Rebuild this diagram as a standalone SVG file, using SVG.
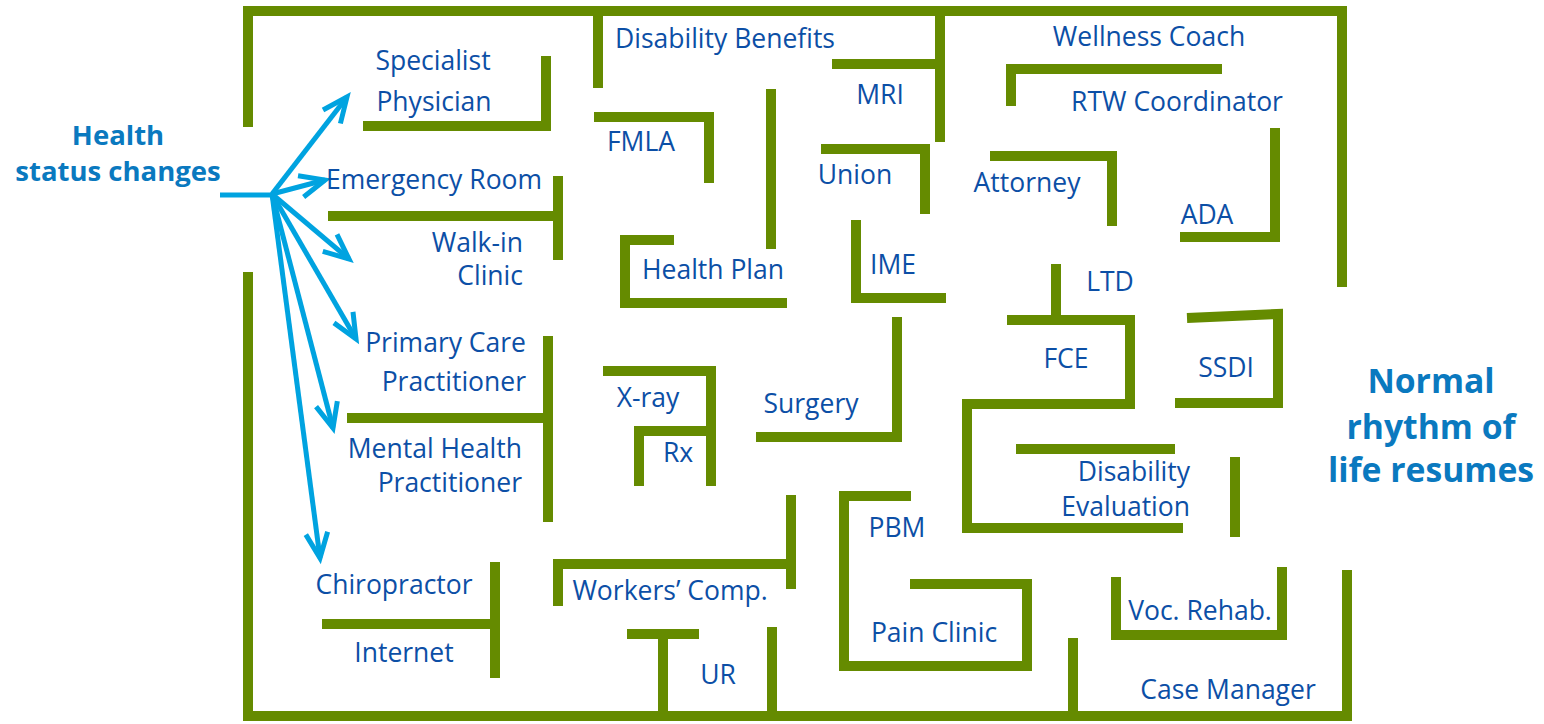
<svg xmlns="http://www.w3.org/2000/svg" width="1544" height="724" viewBox="0 0 1544 724">
  <defs>
    <style>
      .wall { fill: none; stroke: #658b00; stroke-width: 10; stroke-linecap: butt; stroke-linejoin: miter; }
      .lbl { font-family: "Open Sans", "Noto Sans", "Liberation Sans", sans-serif; font-size: 26.5px; fill: #0c4fa6; }
      .mid { text-anchor: middle; }
      .end { text-anchor: end; }
      .head { font-family: "Open Sans", "Noto Sans", "Liberation Sans", sans-serif; font-weight: bold; fill: #0a79bf; text-anchor: middle; }
      .arrow { fill: none; stroke: #00a3e0; stroke-width: 5; stroke-linecap: butt; }
    </style>
    <marker id="vhead" markerUnits="userSpaceOnUse" viewBox="-30 -15 34 30" refX="0" refY="0" markerWidth="34" markerHeight="30" orient="auto" overflow="visible">
      <path d="M-25,-11 L0,0 L-25,11" fill="none" stroke="#00a3e0" stroke-width="5" stroke-linejoin="miter"/>
    </marker>
  </defs>

  <rect width="1544" height="724" fill="#ffffff"/>

  <!-- maze walls -->
  <g id="maze-walls">
    <!-- outer boundary -->
    <path class="wall" d="M248,127 V11 H1342 V287"/>
    <path class="wall" d="M248,272 V716 H1347 V570"/>
    <!-- left column -->
    <path class="wall" d="M363,126 H546 V56"/>
    <path class="wall" d="M328,216 H558"/>
    <path class="wall" d="M558,176 V260"/>
    <path class="wall" d="M347,418 H548"/>
    <path class="wall" d="M548,336 V522"/>
    <path class="wall" d="M322,624 H495"/>
    <path class="wall" d="M495,562 V678"/>
    <!-- middle column -->
    <path class="wall" d="M598,11 V88"/>
    <path class="wall" d="M594,117 H709 V183"/>
    <path class="wall" d="M771,89 V249"/>
    <path class="wall" d="M674,240 H625 V303 H787"/>
    <path class="wall" d="M832,64 H940"/>
    <path class="wall" d="M940,11 V142"/>
    <path class="wall" d="M821,149 H925 V214"/>
    <path class="wall" d="M856,220 V298 H946"/>
    <path class="wall" d="M603,371 H711 V486"/>
    <path class="wall" d="M711,431 H639 V486"/>
    <path class="wall" d="M756,437 H897 V317"/>
    <path class="wall" d="M553,564 H791"/>
    <path class="wall" d="M791,495 V589"/>
    <path class="wall" d="M558,564 V606"/>
    <path class="wall" d="M627,634 H699"/>
    <path class="wall" d="M663,634 V716"/>
    <path class="wall" d="M772,627 V716"/>
    <path class="wall" d="M911,496 H844 V666 H1027 V584 H910"/>
    <!-- right column -->
    <path class="wall" d="M1011,106 V69 H1222"/>
    <path class="wall" d="M990,156 H1112 V226"/>
    <path class="wall" d="M1180,237 H1275 V128"/>
    <path class="wall" d="M1056,264 V320"/>
    <path class="wall" d="M1007,320 H1130 V404 H967 V528 H1183"/>
    <path class="wall" d="M1187,318 L1278,314 V403 H1175"/>
    <path class="wall" d="M1016,449 H1175"/>
    <path class="wall" d="M1235,457 V537"/>
    <path class="wall" d="M1116,577 V635 H1282 V567"/>
    <path class="wall" d="M1073,638 V716"/>
  </g>

  <!-- arrows fanning out from the starting point -->
  <g id="connectors">
    <path class="arrow" d="M220,195 H272"/>
    <path class="arrow" d="M272,194 L347,97" marker-end="url(#vhead)"/>
    <path class="arrow" d="M272,194 L325,180" marker-end="url(#vhead)"/>
    <path class="arrow" d="M272,194 L349,259" marker-end="url(#vhead)"/>
    <path class="arrow" d="M272,194 L356,339" marker-end="url(#vhead)"/>
    <path class="arrow" d="M272,194 L333,428" marker-end="url(#vhead)"/>
    <path class="arrow" d="M272,194 L320,558" marker-end="url(#vhead)"/>
  </g>

  <!-- start and finish -->
  <g id="start">
    <text class="head" font-size="27.5" x="118" y="145">Health</text>
    <text class="head" font-size="27.5" x="118" y="181">status changes</text>
  </g>
  <g id="finish">
    <text class="head" font-size="33.7" x="1431" y="393">Normal</text>
    <text class="head" font-size="33.7" x="1431" y="439">rhythm of</text>
    <text class="head" font-size="33.7" x="1431" y="482">life resumes</text>
  </g>

  <!-- labels -->
  <g id="specialist"><text class="lbl mid" x="433" y="70">Specialist</text><text class="lbl mid" x="434" y="111">Physician</text></g>
  <g id="emergency-room"><text class="lbl mid" x="434" y="189">Emergency Room</text></g>
  <g id="walk-in-clinic"><text class="lbl end" x="523" y="252">Walk-in</text><text class="lbl end" x="523" y="285">Clinic</text></g>
  <g id="primary-care"><text class="lbl end" x="526" y="352">Primary Care</text><text class="lbl end" x="526" y="391">Practitioner</text></g>
  <g id="mental-health"><text class="lbl end" x="522" y="458">Mental Health</text><text class="lbl end" x="522" y="492">Practitioner</text></g>
  <g id="chiropractor"><text class="lbl mid" x="394" y="594">Chiropractor</text></g>
  <g id="internet"><text class="lbl mid" x="404" y="662">Internet</text></g>
  <g id="disability-benefits"><text class="lbl mid" x="725" y="48">Disability Benefits</text></g>
  <g id="fmla"><text class="lbl mid" x="641" y="151">FMLA</text></g>
  <g id="mri"><text class="lbl mid" x="880" y="104">MRI</text></g>
  <g id="union"><text class="lbl mid" x="855" y="184">Union</text></g>
  <g id="health-plan"><text class="lbl mid" x="713" y="279">Health Plan</text></g>
  <g id="ime"><text class="lbl mid" x="893" y="274">IME</text></g>
  <g id="wellness-coach"><text class="lbl mid" x="1149" y="46">Wellness Coach</text></g>
  <g id="rtw-coordinator"><text class="lbl mid" x="1177" y="111">RTW Coordinator</text></g>
  <g id="attorney"><text class="lbl mid" x="1027" y="192">Attorney</text></g>
  <g id="ada"><text class="lbl mid" x="1207" y="224">ADA</text></g>
  <g id="ltd"><text class="lbl mid" x="1110" y="291">LTD</text></g>
  <g id="fce"><text class="lbl mid" x="1066" y="368">FCE</text></g>
  <g id="ssdi"><text class="lbl mid" x="1226" y="377">SSDI</text></g>
  <g id="x-ray"><text class="lbl mid" x="648" y="407">X-ray</text></g>
  <g id="rx"><text class="lbl mid" x="678" y="462">Rx</text></g>
  <g id="surgery"><text class="lbl mid" x="811" y="413">Surgery</text></g>
  <g id="disability-evaluation"><text class="lbl end" x="1190" y="481">Disability</text><text class="lbl end" x="1190" y="516">Evaluation</text></g>
  <g id="pbm"><text class="lbl mid" x="897" y="537">PBM</text></g>
  <g id="workers-comp"><text class="lbl mid" x="670" y="600">Workers’ Comp.</text></g>
  <g id="pain-clinic"><text class="lbl mid" x="934" y="642">Pain Clinic</text></g>
  <g id="voc-rehab"><text class="lbl mid" x="1200" y="620">Voc. Rehab.</text></g>
  <g id="ur"><text class="lbl mid" x="718" y="684">UR</text></g>
  <g id="case-manager"><text class="lbl mid" x="1228" y="699">Case Manager</text></g>
</svg>
